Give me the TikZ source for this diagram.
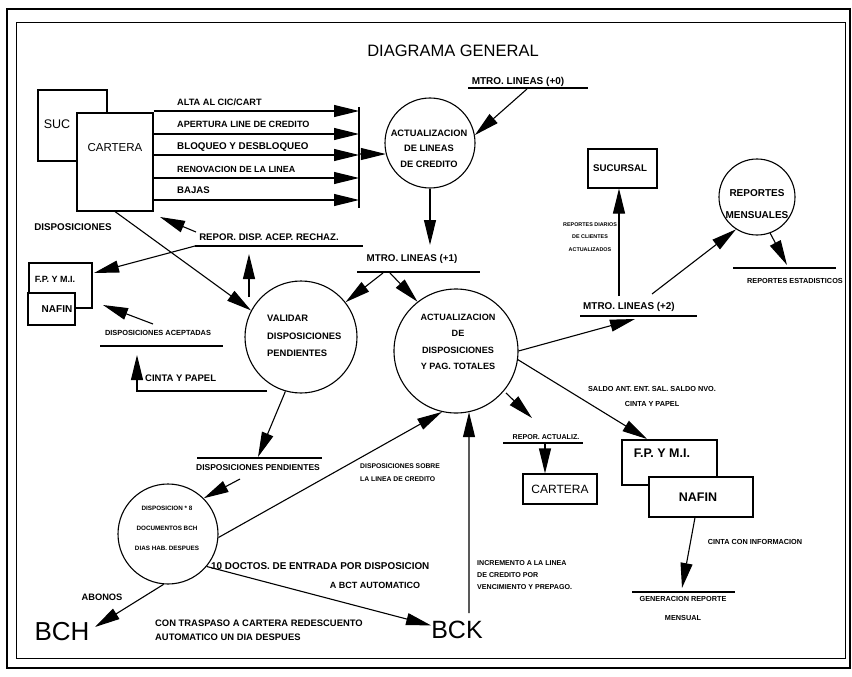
\documentclass[tikz,border=0pt]{standalone}
\usepackage{fontspec}
\setmainfont{Liberation Sans}
\usetikzlibrary{arrows.meta}

% font helpers: bold with size/baselineskip, bold single line, regular
\newcommand\bsz[2]{\fontsize{#1}{#2}\selectfont\bfseries}
\newcommand\bsa[1]{\fontsize{#1}{#1}\selectfont\bfseries}
\newcommand\rsz[1]{\fontsize{#1}{#1}\selectfont}

\begin{document}
\begin{tikzpicture}[x=1pt,y=-1pt,
  ln/.style={line width=1.1pt},
  flow/.style={ln, -{Triangle[length=25pt,width=12pt]}},
  proc/.style={circle, draw, ln, inner sep=0pt},
  ent/.style={rectangle, draw, ln, fill=white, inner sep=0pt},
  txt/.style={inner sep=0pt}]
\useasboundingbox (0,0) rectangle (852,677);

% page frame
\draw[line width=2pt] (7,9) rectangle (850,668);
\draw[line width=1pt] (16,23) rectangle (845,658);

\node[txt, font=\rsz{16.5}] (title) at (453,51) {DIAGRAMA GENERAL};

% ---- SUC / CARTERA and their movements
\node[ent, minimum width=69pt, minimum height=71pt] (suc) at (72.5,125.5) {};
\node[txt, font=\rsz{12.5}] (suctxt) at (57,124) {SUC};
\node[ent, minimum width=76pt, minimum height=98pt] (cart) at (115,162) {};
\node[txt, font=\rsz{11.5}] (carttxt) at (115,148) {CARTERA};

\coordinate (bartop) at (359,107);
\coordinate (barbot) at (359,208);
\draw[ln] (bartop) -- (barbot);
\coordinate (b1) at (359,111);
\coordinate (b2) at (359,134);
\coordinate (b3) at (359,155);
\coordinate (b4) at (359,178);
\coordinate (b5) at (359,200);
\foreach \c in {b1,b2,b3,b4,b5} \draw[flow] (cart.east |- \c) -- (\c);
\node[txt, anchor=west, font=\bsa{9.2}] (l1) at (177,102) {ALTA AL CIC/CART};
\node[txt, anchor=west, font=\bsa{9.1}] (l2) at (177,124) {APERTURA LINE DE CREDITO};
\node[txt, anchor=west, font=\bsa{9.8}] (l3) at (177,147) {BLOQUEO Y DESBLOQUEO};
\node[txt, anchor=west, font=\bsa{8.9}] (l4) at (177,169) {RENOVACION DE LA LINEA};
\node[txt, anchor=west, font=\bsa{9.6}] (l5) at (177,190) {BAJAS};

% ---- line update process
\node[proc, minimum size=90pt] (act1) at (430,143) {};
\node[txt, align=center, font=\bsz{9.3}{15.5}] (act1t) at (429,148.5) {ACTUALIZACION\\DE LINEAS\\DE CREDITO};
\coordinate (b6) at (359,154);
\draw[flow] (b6) -- (act1.194);

\node[txt, font=\bsa{10}] (m0) at (518,82) {MTRO. LINEAS (+0)};
\coordinate (m0l) at (468,88);
\coordinate (m0r) at (588,88);
\draw[ln] (m0l) -- (m0r);
\coordinate (m0a) at (527,89);
\draw[flow] (m0a) -- (act1.10);

% ---- master file (+1)
\coordinate (m1tip) at (430,245);
\draw[flow] (act1.south) -- (m1tip);
\node[txt, font=\bsa{9.8}] (m1) at (412,259) {MTRO. LINEAS (+1)};
\coordinate (m1l) at (357,272);
\coordinate (m1r) at (480,272);
\draw[ln] (m1l) -- (m1r);

\node[proc, minimum size=112pt] (val) at (301,337) {};
\node[txt, align=left, anchor=west, font=\bsz{9.4}{17.5}] (valt) at (267,336) {VALIDAR\\DISPOSICIONES\\PENDIENTES};
\node[proc, minimum size=124pt] (act2) at (456,351) {};
\node[txt, align=center, font=\bsz{9.1}{16.3}] (act2t) at (458,342) {ACTUALIZACION\\DE\\DISPOSICIONES\\Y PAG. TOTALES};

\coordinate (m1a) at (383,273);
\coordinate (m1b) at (390,273);
\draw[flow] (m1a) -- (val.38);
\draw[flow] (m1b) -- (act2.128);

% ---- accepted / rejected reports
\node[txt, font=\bsa{9.6}] (rep) at (269,237) {REPOR. DISP. ACEP. RECHAZ.};
\coordinate (repul) at (195,246);
\coordinate (repur) at (363,246);
\draw[ln] (repul) -- (repur);
\coordinate (repa) at (196,232);
\coordinate (repb) at (160,217);
\draw[flow] (repa) -- (repb);
\coordinate (fpyin) at (94,273);
\draw[flow] (repul) -- (fpyin);
\coordinate (valup) at (249,297);
\coordinate (repup) at (249,254);
\draw[flow] (valup) -- (repup);

\node[txt, font=\bsa{9.8}] (disp) at (73,227) {DISPOSICIONES};
\draw[flow] (cart.south) -- (val.152);

\node[ent, minimum width=63pt, minimum height=45pt] (fpy1) at (60.5,285.5) {};
\node[txt, font=\bsa{9}] (fpy1t) at (55,279) {F.P. Y M.I.};
\node[ent, minimum width=47pt, minimum height=32pt] (naf1) at (51.5,309) {};
\node[txt, font=\bsa{10}] (naf1t) at (57,309) {NAFIN};

\node[txt, font=\bsa{7.4}] (dacc) at (158,333) {DISPOSICIONES ACEPTADAS};
\coordinate (daccl) at (100,346);
\coordinate (daccr) at (223,346);
\draw[ln] (daccl) -- (daccr);
\coordinate (dacca) at (153,324);
\coordinate (daccb) at (103,305);
\draw[flow] (dacca) -- (daccb);

\node[txt, anchor=west, font=\bsa{9.5}] (cinta1) at (145,378) {CINTA Y PAPEL};
\coordinate (c1a) at (267,391);
\coordinate (c1b) at (137,391);
\coordinate (c1c) at (137,355);
\draw[flow] (c1a) -- (c1b) -- (c1c);

% ---- pending dispositions
\coordinate (dptip) at (258,457);
\draw[flow] (val.254) -- (dptip);
\node[txt, font=\bsa{8.5}] (dpend) at (258,468) {DISPOSICIONES PENDIENTES};
\coordinate (dpl) at (197,458);
\coordinate (dpr) at (322,458);
\draw[ln] (dpl) -- (dpr);

\node[proc, minimum size=100pt] (dc) at (168,534) {};
\node[txt, align=center, font=\bsz{6.3}{20}] (dct) at (167,528) {DISPOSICION * 8\\DOCUMENTOS BCH\\DIAS HAB. DESPUES};
\coordinate (dpa) at (240,479);
\draw[flow] (dpa) -- (dc.45);
\draw[flow] (dc.-4) -- (act2.257);
\node[txt, align=left, anchor=west, font=\bsz{6.8}{13}] (sobre) at (360,472.5) {DISPOSICIONES SOBRE\\LA LINEA DE CREDITO};

\node[txt, font=\rsz{25}] (bck) at (457,630) {BCK};
\node[txt, font=\rsz{26}] (bch) at (62,632) {BCH};
\draw[flow] (dc.-40) -- (bck.170);
\node[txt, anchor=west, font=\bsa{9.9}] (doc1) at (211,566) {10 DOCTOS. DE ENTRADA POR DISPOSICION};
\node[txt, font=\bsa{9}] (doc2) at (375,585) {A BCT AUTOMATICO};
\node[txt, align=left, anchor=west, font=\bsz{9.4}{14}] (trasp) at (155,630) {CON TRASPASO A CARTERA REDESCUENTO\\AUTOMATICO UN DIA DESPUES};
\node[txt, font=\bsa{9.3}] (abonos) at (102,597) {ABONOS};
\coordinate (bchin) at (95,627);
\draw[flow] (dc.265) -- (bchin);

% ---- credit line increments
\coordinate (incr) at (469,613);
\draw[flow] (incr) -- (act2.-78);
\node[txt, align=left, anchor=west, font=\bsz{7.1}{12}] (incrt) at (477,575) {INCREMENTO A LA LINEA\\DE CREDITO POR\\VENCIMIENTO Y PREPAGO.};

% ---- update report to CARTERA
\coordinate (ra1) at (506,393);
\coordinate (ra2) at (532,418);
\draw[flow] (ra1) -- (ra2);
\node[txt, font=\bsa{7.1}] (racl) at (546,437) {REPOR. ACTUALIZ.};
\coordinate (ral) at (503,443);
\coordinate (rar) at (583,443);
\draw[ln] (ral) -- (rar);
\node[ent, minimum width=74pt, minimum height=30pt, font=\rsz{12}] (car2) at (560,489) {CARTERA};
\coordinate (raU) at (545,443);
\draw[flow] (raU) -- (raU |- car2.north);

% ---- balances to F.P. Y M.I. / NAFIN
\coordinate (fpin) at (647,439);
\draw[flow] (act2.-8) -- (fpin);
\node[txt, font=\bsa{7.3}] (saldo) at (652,389) {SALDO ANT. ENT. SAL. SALDO NVO.};
\node[txt, font=\bsa{7.3}] (cinta2) at (652,404) {CINTA Y PAPEL};
\node[ent, minimum width=95pt, minimum height=45pt] (fpy2) at (669.5,462.5) {};
\node[txt, font=\bsa{12.5}] (fpy2t) at (662,453) {F.P. Y M.I.};
\node[ent, minimum width=104pt, minimum height=40pt] (naf2) at (701,497) {};
\node[txt, font=\bsa{12.5}] (naf2t) at (698,497) {NAFIN};

\coordinate (genin) at (682,588);
\draw[flow] ([xshift=-6pt]naf2.south) -- (genin);
\coordinate (genl) at (632,592);
\coordinate (genr) at (735,592);
\draw[ln] (genl) -- (genr);
\node[txt, font=\bsa{7.3}] (gen1) at (683,599) {GENERACION REPORTE};
\node[txt, font=\bsa{7.3}] (gen2) at (683,618) {MENSUAL};
\node[txt, font=\bsa{7.3}] (cinfo) at (755,542) {CINTA CON INFORMACION};

% ---- master file (+2) and its outputs
\coordinate (m2in) at (635,319);
\draw[flow] (act2.east) -- (m2in);
\node[txt, font=\bsa{9.9}] (m2) at (629,307) {MTRO. LINEAS (+2)};
\coordinate (m2l) at (580,316);
\coordinate (m2rr) at (697,316);
\draw[ln] (m2l) -- (m2rr);

\node[ent, minimum width=69pt, minimum height=39pt] (suc2) at (622.5,168.5) {};
\node[txt, font=\bsa{9.7}] (suc2t) at (620,168) {SUCURSAL};
\coordinate (m2up) at (619,296);
\draw[flow] (m2up) -- (m2up |- suc2.south);
\node[txt, align=center, font=\bsz{5.4}{12.5}] (diar) at (590,237) {REPORTES DIARIOS\\DE CLIENTES\\ACTUALIZADOS};

\node[proc, minimum size=76pt] (rm) at (757,197) {};
\node[txt, align=center, font=\bsz{10}{22}] (rmt) at (757,204) {REPORTES\\MENSUALES};
\coordinate (m2r) at (652,294);
\draw[flow] (m2r) -- (rm.237);
\coordinate (estin) at (787,265);
\draw[flow] (rm.-70) -- (estin);
\coordinate (estl) at (733,268);
\coordinate (estr) at (836,268);
\draw[ln] (estl) -- (estr);
\node[txt, font=\bsa{7.3}] (est) at (795,281) {REPORTES ESTADISTICOS};
\end{tikzpicture}
\end{document}
